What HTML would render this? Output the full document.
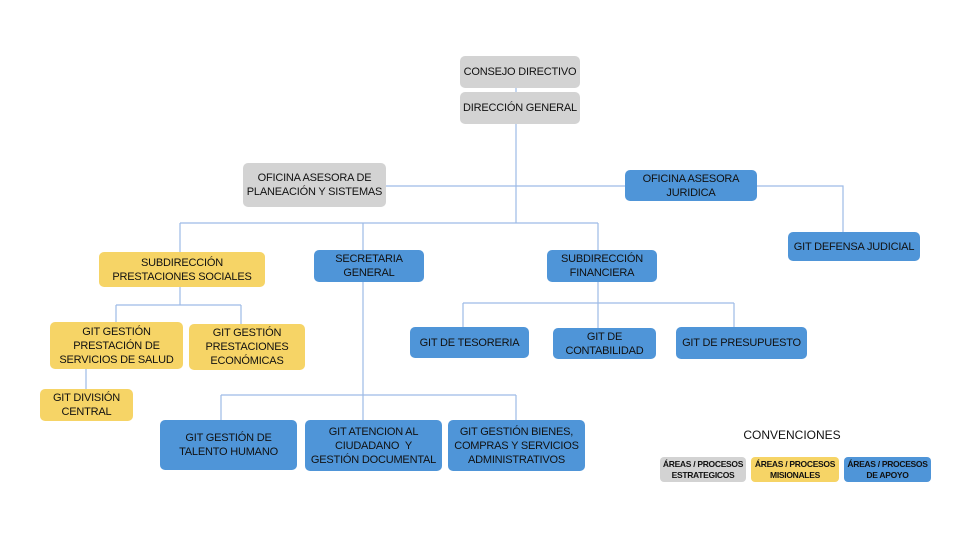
<!DOCTYPE html>
<html><head><meta charset="utf-8"><style>
body{margin:0;width:960px;height:540px;background:#fff;position:relative;overflow:hidden;font-family:"Liberation Sans",sans-serif;}
.b{position:absolute;box-sizing:border-box;border-radius:5px;display:flex;align-items:center;justify-content:center;text-align:center;font-size:11px;line-height:14px;color:#111;letter-spacing:-0.2px}
.g{background:#d3d3d3}.y{background:#f6d466}.u{background:#4f95d8}
.s{font-size:8.5px;line-height:11px;font-weight:bold;border-radius:4px;letter-spacing:-0.3px}
svg{position:absolute;left:0;top:0}
</style></head><body>
<svg width="960" height="540" fill="none" stroke="#9dbbe6" stroke-width="1.2">
<path d="M516 88V92M516 124V223M386 186H625M757 186H843V233"/>
<path d="M180 223H598M180 223V252M363 223V250M598 223V250"/>
<path d="M180 287V305M116 305H241M116 305V322M241 305V324M86 369V389"/>
<path d="M363 282V395M221 395H516M221 395V420M363 395V420M516 395V420"/>
<path d="M598 282V303M463 303H734M463 303V327M598 303V328M734 303V327"/>
</svg>
<div class="b g" style="left:460px;top:56px;width:120px;height:32px">CONSEJO DIRECTIVO</div>
<div class="b g" style="left:460px;top:92px;width:120px;height:32px">DIRECCIÓN GENERAL</div>
<div class="b g" style="left:243px;top:163px;width:143px;height:44px">OFICINA ASESORA DE<br>PLANEACIÓN Y SISTEMAS</div>
<div class="b u" style="left:625px;top:170px;width:132px;height:31px">OFICINA ASESORA<br>JURIDICA</div>
<div class="b u" style="left:788px;top:232px;width:132px;height:29px">GIT DEFENSA JUDICIAL</div>
<div class="b y" style="left:99px;top:252px;width:166px;height:35px">SUBDIRECCIÓN<br>PRESTACIONES SOCIALES</div>
<div class="b u" style="left:314px;top:250px;width:110px;height:32px">SECRETARIA<br>GENERAL</div>
<div class="b u" style="left:547px;top:250px;width:110px;height:32px">SUBDIRECCIÓN<br>FINANCIERA</div>
<div class="b y" style="left:50px;top:322px;width:133px;height:47px">GIT GESTIÓN<br>PRESTACIÓN DE<br>SERVICIOS DE SALUD</div>
<div class="b y" style="left:189px;top:324px;width:116px;height:46px">GIT GESTIÓN<br>PRESTACIONES<br>ECONÓMICAS</div>
<div class="b y" style="left:40px;top:389px;width:93px;height:32px">GIT DIVISIÓN<br>CENTRAL</div>
<div class="b u" style="left:410px;top:327px;width:119px;height:31px">GIT DE TESORERIA</div>
<div class="b u" style="left:553px;top:328px;width:103px;height:31px">GIT DE<br>CONTABILIDAD</div>
<div class="b u" style="left:676px;top:327px;width:131px;height:32px">GIT DE PRESUPUESTO</div>
<div class="b u" style="left:160px;top:420px;width:137px;height:50px">GIT GESTIÓN DE<br>TALENTO HUMANO</div>
<div class="b u" style="left:305px;top:420px;width:137px;height:51px">GIT ATENCION AL<br>CIUDADANO &nbsp;Y<br>GESTIÓN DOCUMENTAL</div>
<div class="b u" style="left:448px;top:420px;width:137px;height:51px">GIT GESTIÓN BIENES,<br>COMPRAS Y SERVICIOS<br>ADMINISTRATIVOS</div>
<div style="position:absolute;left:712px;top:428px;width:160px;text-align:center;font-size:12px;color:#111">CONVENCIONES</div>
<div class="b g s" style="left:660px;top:457px;width:86px;height:25px">ÁREAS / PROCESOS<br>ESTRATEGICOS</div>
<div class="b y s" style="left:751px;top:457px;width:88px;height:25px">ÁREAS / PROCESOS<br>MISIONALES</div>
<div class="b u s" style="left:844px;top:457px;width:87px;height:25px">ÁREAS / PROCESOS<br>DE APOYO</div>
</body></html>
